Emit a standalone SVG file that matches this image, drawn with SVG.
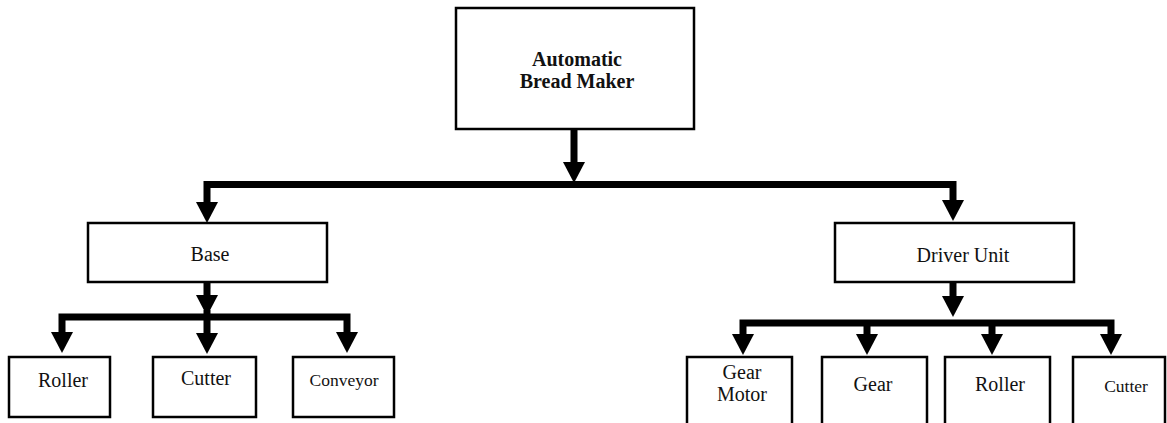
<svg xmlns="http://www.w3.org/2000/svg" width="1167" height="423" viewBox="0 0 1167 423">
<style>
.box{fill:#fff;stroke:#000;stroke-width:2.5}
.t{font-family:"Liberation Serif","Times New Roman",serif;font-size:20px;fill:#111;text-anchor:middle}
.b{font-weight:bold;font-size:20px}
.s{font-size:17.5px}
.c{fill:none;stroke:#000;stroke-width:7;stroke-linejoin:miter;stroke-linecap:butt}
</style>
<defs>
<marker id="ah" markerUnits="userSpaceOnUse" viewBox="0 0 21 22" refX="0" refY="11" markerWidth="21" markerHeight="22" orient="auto">
<path d="M0,0 L21,11 L0,22 Z" fill="#000"/>
</marker>
</defs>
<g id="connectors">
<path class="c" d="M574,130 V162" marker-end="url(#ah)"/>
<path class="c" d="M574,184.5 H207 V202" marker-end="url(#ah)"/>
<path class="c" d="M574,184.5 H953 V200" marker-end="url(#ah)"/>
<path class="c" d="M207,283 V295" marker-end="url(#ah)"/>
<path class="c" d="M207,317 H62 V332" marker-end="url(#ah)"/>
<path class="c" d="M207,317 H347 V332" marker-end="url(#ah)"/>
<path class="c" d="M207,310 V333" marker-end="url(#ah)"/>
<path class="c" d="M953,282 V296" marker-end="url(#ah)"/>
<path class="c" d="M953,323 H743 V334" marker-end="url(#ah)"/>
<path class="c" d="M953,323 H1111 V334" marker-end="url(#ah)"/>
<path class="c" d="M867,323 V334" marker-end="url(#ah)"/>
<path class="c" d="M992,323 V334" marker-end="url(#ah)"/>
</g>
<g id="n-top"><rect class="box" x="456" y="8" width="238" height="121"/>
<text class="t b" x="577" y="66">Automatic</text><text class="t b" x="577" y="88">Bread Maker</text></g>
<g id="n-base"><rect class="box" x="88" y="223" width="239" height="59"/><text class="t" x="210" y="261">Base</text></g>
<g id="n-driver"><rect class="box" x="835" y="223" width="239" height="59"/><text class="t" x="963" y="262">Driver Unit</text></g>
<g id="n-roller1"><rect class="box" x="9" y="357" width="101" height="60"/><text class="t" x="63" y="387">Roller</text></g>
<g id="n-cutter1"><rect class="box" x="153" y="357" width="103" height="60"/><text class="t" x="206" y="385">Cutter</text></g>
<g id="n-conveyor"><rect class="box" x="293" y="357" width="101" height="60"/><text class="t s" x="344" y="386">Conveyor</text></g>
<g id="n-gearmotor"><rect class="box" x="687" y="357" width="105" height="80"/><text class="t" x="742" y="379">Gear</text><text class="t" x="742" y="401">Motor</text></g>
<g id="n-gear"><rect class="box" x="822" y="357" width="105" height="80"/><text class="t" x="873" y="391">Gear</text></g>
<g id="n-roller2"><rect class="box" x="945" y="357" width="105" height="80"/><text class="t" x="1000" y="391">Roller</text></g>
<g id="n-cutter2"><rect class="box" x="1073" y="357" width="92" height="80"/><text class="t s" x="1126" y="392">Cutter</text></g>
</svg>
